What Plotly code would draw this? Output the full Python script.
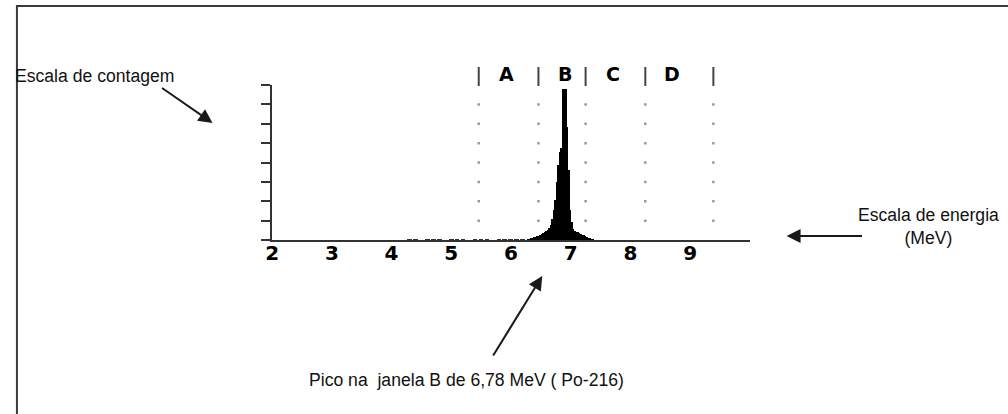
import plotly.graph_objects as go

W, H = 1008, 414

# Alpha spectrum (counts per channel) around the Po-216 peak
peak_energy = [6.300, 6.325, 6.350, 6.375, 6.400, 6.425, 6.450, 6.475, 6.500, 6.525,
               6.550, 6.575, 6.600, 6.625, 6.650, 6.675, 6.700, 6.725, 6.750, 6.775,
               6.800, 6.825, 6.850, 6.875, 6.900, 6.925, 6.950, 6.975, 7.000, 7.025,
               7.050, 7.075, 7.100, 7.125, 7.150, 7.175, 7.200, 7.225, 7.250, 7.275,
               7.300, 7.325, 7.350, 7.375]
peak_counts = [5, 5, 10, 10, 15, 15, 21, 21, 26, 31,
               36, 41, 46, 52, 62, 77, 108, 155, 206, 299,
               387, 454, 475, 779, 779, 779, 583, 361, 155, 93,
               57, 46, 41, 41, 36, 31, 26, 26, 21, 15,
               10, 10, 5, 5]

# Low-energy background
tail_energy = [4.30, 4.40, 4.50, 4.60, 4.70, 4.80, 4.90, 5.00, 5.10, 5.20,
               5.30, 5.40, 5.50, 5.60, 5.70, 5.80, 5.90, 6.00, 6.10, 6.20]
tail_counts = [4, 4, 0, 4, 5, 4, 0, 4, 4, 5, 0, 4, 5, 4, 0, 5, 5, 4, 5, 5]

# Energy windows A-D
window_edges = [5.46, 6.46, 7.25, 8.25, 9.39]
window_names = ["A", "B", "C", "D"]
window_label_x = [5.93, 6.91, 7.71, 8.70]

x_ticks = [2, 3, 4, 5, 6, 7, 8, 9]
y_ticks = [0, 100, 200, 300, 400, 500, 600, 700, 800]
grid_dots = [100, 200, 300, 400, 500, 600, 700]


def px(x):
    return x / W


def py(y):
    return (H - y) / H


AX = "#333333"

fig = go.Figure()

fig.add_trace(go.Bar(x=tail_energy, y=tail_counts, width=0.08,
                     marker=dict(color="#333333", line=dict(width=0)),
                     hoverinfo="skip"))
fig.add_trace(go.Bar(x=peak_energy, y=peak_counts, width=0.026,
                     marker=dict(color="black", line=dict(width=0)),
                     hoverinfo="skip"))

# dotted window boundaries inside the plot
dot_x, dot_y = [], []
for e in window_edges:
    for d in grid_dots:
        dot_x.append(e)
        dot_y.append(d)
fig.add_trace(go.Scatter(x=dot_x, y=dot_y, mode="markers",
                         marker=dict(symbol="square", size=2.5, color="#9a9a9a",
                                     line=dict(width=0)),
                         hoverinfo="skip"))

shapes = []
# window separators above the plot
for e in window_edges:
    shapes.append(dict(type="line", xref="x", yref="paper", x0=e, x1=e,
                       y0=py(86), y1=py(67), line=dict(color="#444444", width=2)))
# outer frame
shapes.append(dict(type="rect", xref="paper", yref="paper",
                   x0=px(10), x1=1.2, y0=-0.2, y1=py(6),
                   line=dict(color="#3a3a3a", width=2)))

annotations = []
for name, lx in zip(window_names, window_label_x):
    annotations.append(dict(x=lx, y=py(74), xref="x", yref="paper", text=f"<b>{name}</b>",
                            showarrow=False, font=dict(family="DejaVu Sans", size=19, color="black"),
                            xanchor="center", yanchor="middle"))

TXT = dict(family="Liberation Sans, Arial", size=17.6, color="#111111")
annotations.append(dict(x=px(6), y=py(76), xref="paper", yref="paper",
                        text="Escala de contagem", showarrow=False, font=TXT,
                        xanchor="left", yanchor="middle"))
annotations.append(dict(x=px(928), y=py(226), xref="paper", yref="paper",
                        text="Escala de energia<br>(MeV)", showarrow=False, font=TXT,
                        xanchor="center", yanchor="middle", align="center"))
annotations.append(dict(x=px(463), y=py(380), xref="paper", yref="paper",
                        text="Pico na  janela B de 6,78 MeV ( Po-216)", showarrow=False,
                        font=TXT, xanchor="center", yanchor="middle"))

# arrows
for hx, hy, tx, ty in [(207, 123, 155, 87), (785, 236, 862, 236), (539, 276, 489, 357)]:
    annotations.append(dict(x=px(hx), y=py(hy), xref="paper", yref="paper", text="",
                            showarrow=True, axref="pixel", ayref="pixel",
                            ax=tx - hx, ay=ty - hy, arrowhead=2, arrowsize=1.4,
                            arrowwidth=2, arrowcolor="#1a1a1a", standoff=0))

fig.update_layout(
    width=W, height=H,
    margin=dict(l=0, r=0, t=0, b=0),
    paper_bgcolor="white", plot_bgcolor="white",
    showlegend=False, barmode="overlay", bargap=0,
    shapes=shapes, annotations=annotations,
    xaxis=dict(domain=[px(267), px(748)], range=[2, 10], showgrid=False, zeroline=False,
               showline=True, linecolor=AX, linewidth=2, ticks="",
               tickvals=x_ticks, ticktext=[f"<b>{t}</b>" for t in x_ticks],
               tickfont=dict(family="DejaVu Sans", size=20, color="black"),
               ticklabelstandoff=-6),
    yaxis=dict(domain=[py(240), py(85)], range=[0, 800], showgrid=False, zeroline=False,
               showline=True, linecolor=AX, linewidth=2, ticks="outside", ticklen=9,
               tickwidth=2, tickcolor=AX, tickvals=y_ticks, showticklabels=False),
)

fig.write_html("out.html")
